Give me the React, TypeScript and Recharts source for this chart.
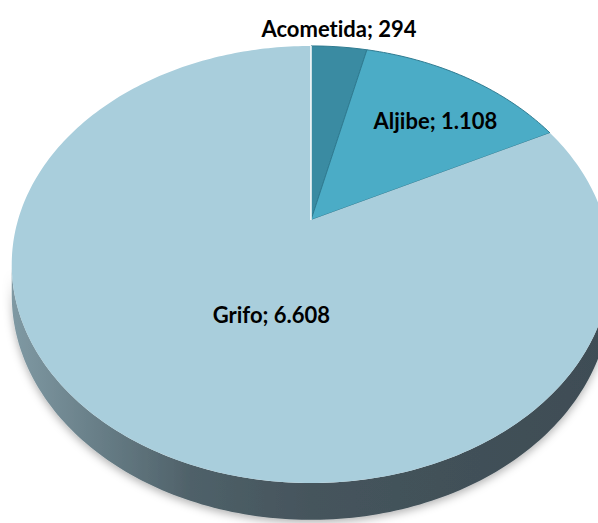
import { PieChart, Pie } from "recharts";

// Tipo de conexión y número de usos
const CATEGORIES = ["Acometida", "Aljibe", "Grifo"];
const VALUES = [294, 1108, 6608];
const COLORS = ["#3a8ba2", "#4bacc6", "#a9cedc"];

const data = CATEGORIES.map((name, i) => ({ name, value: VALUES[i], fill: COLORS[i] }));

const WIDTH = 598;
const HEIGHT = 523;

// tilted disc seen in perspective: far side shrinks, near side grows
const TILT = 0.715;
const PERSPECTIVE = 0.2036;
const DEPTH = 0.1;
const EDGE = "#2f7b91";

// label placement on the disc (radius fraction, angle nudge in degrees)
const LABEL_PLACE = [
  { r: 1, nudge: 0, outside: true },
  { r: 0.7, nudge: 4, outside: false },
  { r: 0.435, nudge: -15, outside: false },
];

function project(cx: number, cy: number, R: number, phi: number, r: number, drop = 0) {
  const p = (phi * Math.PI) / 180;
  const u = r * Math.sin(p);
  const v = r * Math.cos(p);
  const d = 1 + PERSPECTIVE * v;
  return [cx + (R * u) / d, cy - (R * TILT * v) / d + (drop * R * DEPTH) / d];
}

function arcPoints(cx: number, cy: number, R: number, from: number, to: number, drop = 0) {
  const pts: number[][] = [];
  const steps = Math.max(2, Math.ceil(Math.abs(to - from)));
  for (let i = 0; i <= steps; i++) {
    pts.push(project(cx, cy, R, from + ((to - from) * i) / steps, 1, drop));
  }
  return pts;
}

const fmt = (v: number) => String(v).replace(/\B(?=(\d{3})+(?!\d))/g, ".");

function Slice3D(props: any) {
  const { cx, cy, outerRadius, startAngle, endAngle, fill, index } = props;
  const R = outerRadius;
  const a0 = 90 - startAngle;
  const a1 = 90 - endAngle;

  // visible front wall lies between the two silhouette angles
  const left = (Math.acos(-PERSPECTIVE) * 180) / Math.PI;
  const right = 360 - left;
  const s0 = Math.max(a0, left);
  const s1 = Math.min(a1, right);
  let side: string | null = null;
  if (s1 > s0) {
    const top = arcPoints(cx, cy, R, s0, s1);
    const bottom = arcPoints(cx, cy, R, s1, s0, 1);
    side = "M" + [...top, ...bottom].map((p) => p.join(",")).join("L") + "Z";
  }

  const face =
    `M${cx},${cy}L` + arcPoints(cx, cy, R, a0, a1).map((p) => p.join(",")).join("L") + "Z";
  const last = index === data.length - 1;
  const endPt = project(cx, cy, R, a1, 1);

  return (
    <g>
      {side && <path d={side} fill="url(#sideGrad)" filter="url(#pieShadow)" />}
      <path
        d={face}
        fill={fill}
        stroke={last ? "none" : EDGE}
        strokeWidth={1}
        strokeLinejoin="round"
      />
      {last && (
        <line x1={cx} y1={cy} x2={endPt[0]} y2={endPt[1]} stroke="#ffffff" strokeWidth={1.5} />
      )}
    </g>
  );
}

function SliceLabel(props: any) {
  const { cx, cy, outerRadius, midAngle, index, name, value } = props;
  const place = LABEL_PLACE[index];
  const phi = 90 - midAngle + place.nudge;
  const [x, y] = project(cx, cy, outerRadius, phi, place.r);
  return (
    <text
      x={x}
      y={place.outside ? y - 10 : y + 7.5}
      textAnchor="middle"
      fill="#000000"
      fontFamily="Lato, 'Open Sans', sans-serif"
      fontWeight={700}
      fontSize={22}
      style={{ fontVariantLigatures: "none", fontFeatureSettings: "'liga' 0, 'clig' 0" }}
    >
      {`${name}; ${fmt(value)}`}
    </text>
  );
}

export default function App() {
  return (
    <div style={{ position: "absolute", left: 0, top: 0, width: WIDTH, height: HEIGHT, background: "#fff" }}>
      <PieChart width={WIDTH} height={HEIGHT} margin={{ top: 0, right: 0, bottom: 0, left: 0 }}>
        <defs>
          <linearGradient id="sideGrad" x1="12" y1="0" x2="610" y2="0" gradientUnits="userSpaceOnUse">
            <stop offset="0" stopColor="#7f99a3" />
            <stop offset="0.3" stopColor="#4f6169" />
            <stop offset="0.5" stopColor="#45545c" />
            <stop offset="1" stopColor="#3e4d55" />
          </linearGradient>
          <filter id="pieShadow" x="-10%" y="-10%" width="120%" height="140%">
            <feDropShadow dx="0" dy="3" stdDeviation="4" floodColor="#000" floodOpacity="0.3" />
          </filter>
        </defs>
        <Pie
          data={data}
          dataKey="value"
          nameKey="name"
          cx={311}
          cy={220}
          outerRadius={293}
          startAngle={90}
          endAngle={-270}
          stroke="none"
          shape={Slice3D}
          label={SliceLabel}
          labelLine={false}
          isAnimationActive={false}
        />
      </PieChart>
    </div>
  );
}
